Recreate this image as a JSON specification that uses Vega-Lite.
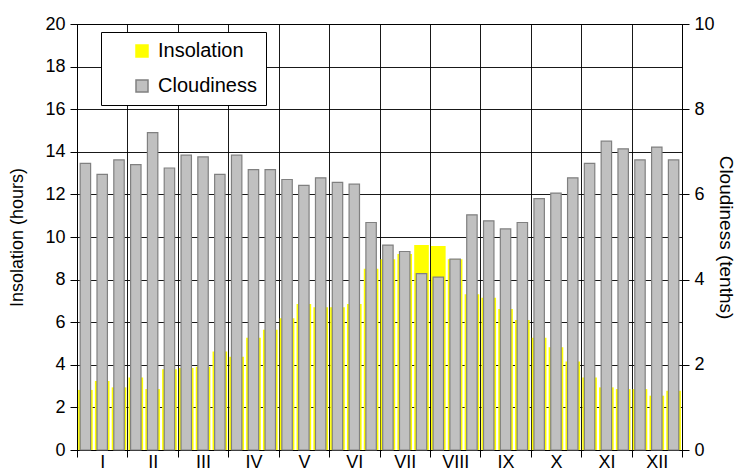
{
  "$schema": "https://vega.github.io/schema/vega-lite/v6.json",
  "width": 605,
  "height": 426,
  "autosize": {"type": "none"},
  "padding": {"left": 77, "top": 24, "right": 54, "bottom": 20},
  "background": "white",
  "config": {
    "font": "Liberation Sans",
    "view": {"stroke": "black", "strokeWidth": 1},
    "axis": {
      "domainColor": "black",
      "tickColor": "black",
      "gridColor": "black",
      "gridOpacity": 0.9,
      "labelColor": "black",
      "titleColor": "black",
      "labelFont": "Liberation Sans",
      "titleFont": "Liberation Sans",
      "titleFontWeight": "normal"
    }
  },
  "data": {
    "values": [
      {"month": "I", "dekad": 1, "insolation": 2.82, "cloudiness": 6.73},
      {"month": "I", "dekad": 2, "insolation": 3.24, "cloudiness": 6.47},
      {"month": "I", "dekad": 3, "insolation": 2.94, "cloudiness": 6.81},
      {"month": "II", "dekad": 1, "insolation": 3.40, "cloudiness": 6.70},
      {"month": "II", "dekad": 2, "insolation": 2.86, "cloudiness": 7.45},
      {"month": "II", "dekad": 3, "insolation": 3.79, "cloudiness": 6.62},
      {"month": "III", "dekad": 1, "insolation": 3.85, "cloudiness": 6.92},
      {"month": "III", "dekad": 2, "insolation": 3.91, "cloudiness": 6.88},
      {"month": "III", "dekad": 3, "insolation": 4.62, "cloudiness": 6.47},
      {"month": "IV", "dekad": 1, "insolation": 4.38, "cloudiness": 6.92},
      {"month": "IV", "dekad": 2, "insolation": 5.27, "cloudiness": 6.58},
      {"month": "IV", "dekad": 3, "insolation": 5.65, "cloudiness": 6.58},
      {"month": "V", "dekad": 1, "insolation": 6.18, "cloudiness": 6.35},
      {"month": "V", "dekad": 2, "insolation": 6.85, "cloudiness": 6.21},
      {"month": "V", "dekad": 3, "insolation": 6.70, "cloudiness": 6.39},
      {"month": "VI", "dekad": 1, "insolation": 6.70, "cloudiness": 6.28},
      {"month": "VI", "dekad": 2, "insolation": 6.85, "cloudiness": 6.24},
      {"month": "VI", "dekad": 3, "insolation": 8.51, "cloudiness": 5.34},
      {"month": "VII", "dekad": 1, "insolation": 8.95, "cloudiness": 4.81},
      {"month": "VII", "dekad": 2, "insolation": 9.20, "cloudiness": 4.66},
      {"month": "VII", "dekad": 3, "insolation": 9.62, "cloudiness": 4.14},
      {"month": "VIII", "dekad": 1, "insolation": 9.58, "cloudiness": 4.06},
      {"month": "VIII", "dekad": 2, "insolation": 8.95, "cloudiness": 4.48},
      {"month": "VIII", "dekad": 3, "insolation": 7.31, "cloudiness": 5.52},
      {"month": "IX", "dekad": 1, "insolation": 7.15, "cloudiness": 5.38},
      {"month": "IX", "dekad": 2, "insolation": 6.62, "cloudiness": 5.19},
      {"month": "IX", "dekad": 3, "insolation": 6.10, "cloudiness": 5.34},
      {"month": "X", "dekad": 1, "insolation": 5.27, "cloudiness": 5.90},
      {"month": "X", "dekad": 2, "insolation": 4.82, "cloudiness": 6.03},
      {"month": "X", "dekad": 3, "insolation": 4.15, "cloudiness": 6.39},
      {"month": "XI", "dekad": 1, "insolation": 3.40, "cloudiness": 6.73},
      {"month": "XI", "dekad": 2, "insolation": 2.94, "cloudiness": 7.25},
      {"month": "XI", "dekad": 3, "insolation": 2.86, "cloudiness": 7.07},
      {"month": "XII", "dekad": 1, "insolation": 2.86, "cloudiness": 6.81},
      {"month": "XII", "dekad": 2, "insolation": 2.55, "cloudiness": 7.11},
      {"month": "XII", "dekad": 3, "insolation": 2.78, "cloudiness": 6.81}
    ]
  },
  "layer": [
    {
      "mark": {"type": "bar"},
      "encoding": {
        "x": {
          "field": "month",
          "type": "nominal",
          "sort": null,
          "scale": {"paddingInner": 0, "paddingOuter": 0},
          "axis": {
            "title": null,
            "tickBand": "extent",
            "grid": true,
            "gridWidth": 1,
            "tickSize": 7,
            "labelAngle": 0,
            "labelFontSize": 18,
            "labelPadding": -4
          }
        },
        "xOffset": {
          "field": "dekad",
          "type": "ordinal",
          "scale": {"paddingInner": 0.13, "paddingOuter": 0.065}
        },
        "y": {
          "field": "insolation",
          "type": "quantitative",
          "scale": {"domain": [0, 20]},
          "axis": {
            "title": "Insolation (hours)",
            "values": [0, 2, 4, 6, 8, 10, 12, 14, 16, 18, 20],
            "grid": true,
            "tickSize": 7,
            "labelFontSize": 18,
            "labelPadding": 5,
            "titleFontSize": 18,
            "titlePadding": 18
          }
        },
        "color": {
          "datum": "Insolation",
          "scale": {"domain": ["Insolation", "Cloudiness"], "range": ["#ffff00", "#c0c0c0"]},
          "legend": {
            "title": null,
            "orient": "none",
            "legendX": 24,
            "legendY": 8,
            "padding": 9,
            "symbolOffset": 22,
            "symbolType": "square",
            "symbolSize": 144,
            "symbolOpacity": 1,
            "labelFontSize": 20,
            "labelColor": "black",
            "labelOffset": 6,
            "rowPadding": 15,
            "strokeColor": "black",
            "fillColor": "white",
            "labelExpr": "datum.label + '\u00a0\u00a0\u00a0\u00a0'",
            "encode": {
              "symbols": {
                "update": {
                  "stroke": [{"test": "datum.value === 'Cloudiness'", "value": "#808080"}, {"value": "#ffff00"}],
                  "strokeWidth": {"value": 1.5}
                }
              }
            }
          }
        }
      }
    },
    {
      "mark": {"type": "bar", "stroke": "#808080", "strokeWidth": 1.2},
      "encoding": {
        "x": {"field": "month", "type": "nominal", "sort": null},
        "xOffset": {
          "field": "dekad",
          "type": "ordinal",
          "scale": {"paddingInner": 0.38, "paddingOuter": 0.19}
        },
        "y": {
          "field": "cloudiness",
          "type": "quantitative",
          "scale": {"domain": [0, 10]},
          "axis": {
            "orient": "right",
            "title": "Cloudiness (tenths)",
            "values": [0, 2, 4, 6, 8, 10],
            "grid": false,
            "tickSize": 7,
            "labelFontSize": 18,
            "labelPadding": 5,
            "titleFontSize": 19,
            "titlePadding": 1
          }
        },
        "color": {"datum": "Cloudiness"}
      }
    }
  ],
  "resolve": {"scale": {"y": "independent", "xOffset": "independent"}}
}
